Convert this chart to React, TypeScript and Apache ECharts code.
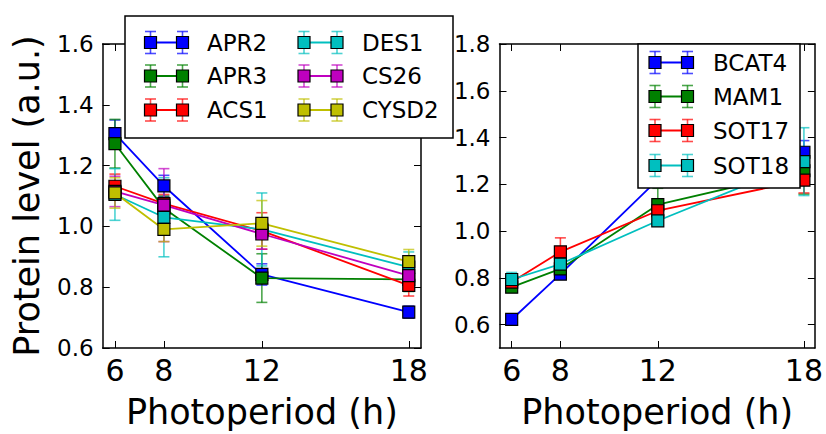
import React, { useEffect, useRef } from "react";
import * as echarts from "echarts";

// ---------- data ----------
const photoperiod = [6, 8, 12, 18];
const leftYTicks = [0.6, 0.8, 1.0, 1.2, 1.4, 1.6];
const rightYTicks = [0.6, 0.8, 1.0, 1.2, 1.4, 1.6, 1.8];

const leftNames = ["APR2", "APR3", "ACS1", "DES1", "CS26", "CYSD2"];
const leftColors = ["#0000ff", "#008000", "#ff0000", "#00bfbf", "#bf00bf", "#bfbf00"];
const apr2 = [1.305, 1.133, 0.842, 0.718];
const apr2Err = [0.045, 0.035, 0.035, 0.02];
const apr3 = [1.272, 1.06, 0.83, 0.826];
const apr3Err = [0.08, 0.04, 0.08, 0.04];
const acs1 = [1.132, 1.075, 0.985, 0.806];
const acs1Err = [0.04, 0.03, 0.06, 0.035];
const des1 = [1.105, 1.03, 0.99, 0.866];
const des1Err = [0.085, 0.13, 0.12, 0.05];
const cs26 = [1.115, 1.07, 0.975, 0.838];
const cs26Err = [0.05, 0.12, 0.05, 0.04];
const cysd2 = [1.11, 0.99, 1.01, 0.884];
const cysd2Err = [0.05, 0.04, 0.075, 0.04];
const leftValues = [apr2, apr3, acs1, des1, cs26, cysd2];
const leftErrs = [apr2Err, apr3Err, acs1Err, des1Err, cs26Err, cysd2Err];

const rightNames = ["BCAT4", "MAM1", "SOT17", "SOT18"];
const rightColors = ["#0000ff", "#008000", "#ff0000", "#00bfbf"];
const bcat4 = [0.622, 0.816, 1.22, 1.337];
const bcat4Err = [0.01, 0.015, 0.03, 0.05];
const mam1 = [0.76, 0.838, 1.113, 1.258];
const mam1Err = [0.02, 0.02, 0.07, 0.1];
const sot17 = [0.782, 0.911, 1.087, 1.218];
const sot17Err = [0.02, 0.06, 0.03, 0.055];
const sot18 = [0.793, 0.859, 1.044, 1.297];
const sot18Err = [0.03, 0.02, 0.02, 0.145];
const rightValues = [bcat4, mam1, sot17, sot18];
const rightErrs = [bcat4Err, mam1Err, sot17Err, sot18Err];

const xTitle = "Photoperiod (h)";
const yTitle = "Protein level (a.u.)";

// ---------- styling ----------
const FONT = "DejaVu Sans";
const ERR_ALPHA = 0.7;
const LINE_W = 1.8;

function errorBarSeries(values: number[], errs: number[], color: string, axis: number) {
  return {
    type: "custom",
    xAxisIndex: axis,
    yAxisIndex: axis,
    silent: true,
    encode: { x: 0, y: 1 },
    data: photoperiod.map((x, i) => [x, values[i], errs[i]]),
    renderItem: (params: any, api: any) => {
      const x = api.value(0);
      const y = api.value(1);
      const e = api.value(2);
      const top = api.coord([x, y + e]);
      const bot = api.coord([x, y - e]);
      const hw = 5.5;
      const st = { stroke: color, lineWidth: 1.6, opacity: ERR_ALPHA };
      return {
        type: "group",
        children: [
          { type: "line", shape: { x1: top[0], y1: top[1], x2: bot[0], y2: bot[1] }, style: st },
          { type: "line", shape: { x1: top[0] - hw, y1: top[1], x2: top[0] + hw, y2: top[1] }, style: st },
          { type: "line", shape: { x1: bot[0] - hw, y1: bot[1], x2: bot[0] + hw, y2: bot[1] }, style: st },
        ],
      };
    },
  };
}

function lineSeries(name: string, values: number[], color: string, axis: number) {
  return {
    type: "line",
    name,
    xAxisIndex: axis,
    yAxisIndex: axis,
    silent: true,
    data: photoperiod.map((x, i) => [x, values[i]]),
    symbol: "rect",
    symbolSize: 12,
    showSymbol: true,
    lineStyle: { color, width: LINE_W },
    itemStyle: { color, borderColor: "#000", borderWidth: 1.2 },
    emphasis: { disabled: true },
  };
}

function legendGraphics(
  names: string[],
  colors: string[],
  box: { x: number; y: number; w: number; h: number },
  cols: { s1: number; s2: number; tx: number }[],
  rows: number[]
) {
  const els: any[] = [
    {
      type: "rect",
      z: 100,
      shape: { x: box.x, y: box.y, width: box.w, height: box.h },
      style: { fill: "#fff", stroke: "#000", lineWidth: 1.5 },
    },
  ];
  names.forEach((name, i) => {
    const c = cols[Math.floor(i / rows.length)];
    const cy = rows[i % rows.length];
    const color = colors[i];
    els.push({
      type: "line",
      z: 101,
      shape: { x1: c.s1, y1: cy, x2: c.s2, y2: cy },
      style: { stroke: color, lineWidth: LINE_W },
    });
    [c.s1, c.s2].forEach((sx) => {
      const st = { stroke: color, lineWidth: 1.6, opacity: ERR_ALPHA };
      els.push({ type: "line", z: 101, shape: { x1: sx, y1: cy - 11, x2: sx, y2: cy + 11 }, style: st });
      els.push({ type: "line", z: 101, shape: { x1: sx - 5.5, y1: cy - 11, x2: sx + 5.5, y2: cy - 11 }, style: st });
      els.push({ type: "line", z: 101, shape: { x1: sx - 5.5, y1: cy + 11, x2: sx + 5.5, y2: cy + 11 }, style: st });
      els.push({
        type: "rect",
        z: 102,
        shape: { x: sx - 6, y: cy - 6, width: 12, height: 12 },
        style: { fill: color, stroke: "#000", lineWidth: 1.2 },
      });
    });
    els.push({
      type: "text",
      z: 102,
      x: c.tx,
      y: cy,
      style: { text: name, font: `23px '${FONT}'`, fill: "#000", verticalAlign: "middle", align: "left" },
    });
  });
  return els;
}

function xAxes(grid: number, min: number, max: number) {
  const line = { show: true, onZero: false, lineStyle: { color: "#000", width: 1.5 } };
  const tick = { show: true, inside: true, length: 7, customValues: photoperiod, lineStyle: { color: "#000", width: 1 } };
  return [
    {
      gridIndex: grid,
      type: "value",
      min,
      max,
      position: "bottom",
      axisLine: line,
      axisTick: tick,
      axisLabel: {
        customValues: photoperiod,
        color: "#000",
        fontSize: 30,
        fontFamily: FONT,
        margin: 7,
      },
      splitLine: { show: false },
      name: xTitle,
      nameLocation: "middle",
      nameGap: 46,
      nameTextStyle: { color: "#000", fontSize: 35, fontFamily: FONT },
    },
    {
      gridIndex: grid,
      type: "value",
      min,
      max,
      position: "top",
      axisLine: line,
      axisTick: tick,
      axisLabel: { show: false },
      splitLine: { show: false },
    },
  ];
}

function yAxes(grid: number, min: number, max: number, ticks: number[], withName: boolean) {
  const line = { show: true, onZero: false, lineStyle: { color: "#000", width: 1.5 } };
  const tick = { show: true, inside: true, length: 7, customValues: ticks, lineStyle: { color: "#000", width: 1 } };
  return [
    {
      gridIndex: grid,
      type: "value",
      min,
      max,
      position: "left",
      axisLine: line,
      axisTick: tick,
      axisLabel: {
        customValues: ticks,
        formatter: (v: number) => v.toFixed(1),
        color: "#000",
        fontSize: 23,
        fontFamily: FONT,
        margin: 9,
      },
      splitLine: { show: false },
      ...(withName
        ? {
            name: yTitle,
            nameLocation: "middle",
            nameGap: 58,
            nameTextStyle: { color: "#000", fontSize: 35, fontFamily: FONT },
          }
        : {}),
    },
    {
      gridIndex: grid,
      type: "value",
      min,
      max,
      position: "right",
      axisLine: line,
      axisTick: tick,
      axisLabel: { show: false },
      splitLine: { show: false },
    },
  ];
}

export default function App() {
  const ref = useRef<HTMLDivElement>(null);
  useEffect(() => {
    if (!ref.current) return;
    const chart = echarts.init(ref.current, undefined, { renderer: "svg" });

    const series: any[] = [];
    leftNames.forEach((n, i) => {
      series.push(errorBarSeries(leftValues[i], leftErrs[i], leftColors[i], 0));
      series.push(lineSeries(n, leftValues[i], leftColors[i], 0));
    });
    rightNames.forEach((n, i) => {
      series.push(errorBarSeries(rightValues[i], rightErrs[i], rightColors[i], 2));
      series.push(lineSeries(n, rightValues[i], rightColors[i], 2));
    });

    const graphics = [
      ...legendGraphics(
        leftNames,
        leftColors,
        { x: 125, y: 16, w: 328, h: 122 },
        [
          { s1: 150.5, s2: 182.5, tx: 207 },
          { s1: 304, s2: 337, tx: 362 },
        ],
        [42.5, 76, 110]
      ),
      ...legendGraphics(
        rightNames,
        rightColors,
        { x: 638, y: 44, w: 162, h: 144 },
        [{ s1: 655, s2: 687.5, tx: 713 }],
        [62.5, 96.5, 130.5, 165.5]
      ),
    ];

    chart.setOption({
      animation: false,
      backgroundColor: "#fff",
      textStyle: { fontFamily: FONT },
      grid: [
        { left: 102.7, top: 44, width: 318.3, height: 310 },
        { left: 499.5, top: 44, width: 317.2, height: 310 },
      ],
      xAxis: [...xAxes(0, 5.5, 18.5), ...xAxes(1, 5.5, 18.45)],
      yAxis: [...yAxes(0, 0.6, 1.6, leftYTicks, true), ...yAxes(1, 0.5, 1.8, rightYTicks, false)],
      series,
      graphic: graphics,
    });
    return () => chart.dispose();
  }, []);
  return (
    <div
      ref={ref}
      style={{ position: "fixed", left: 0, top: 0, width: 826, height: 434, background: "#fff" }}
    />
  );
}
